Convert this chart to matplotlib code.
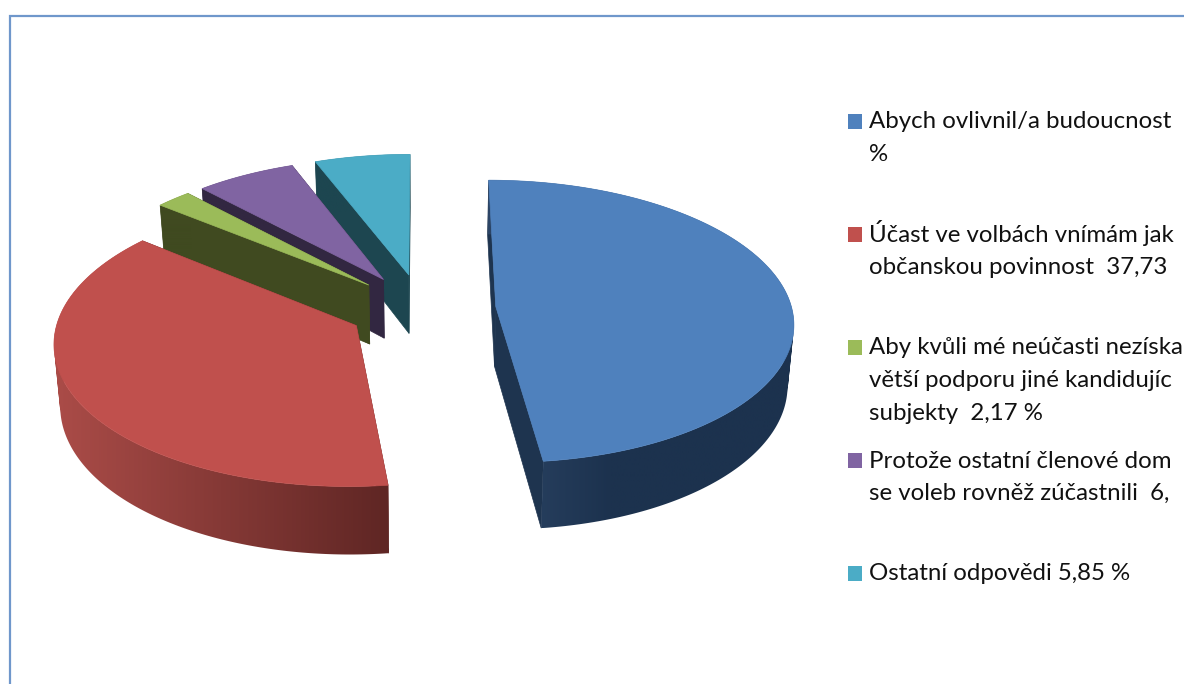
import numpy as np
import matplotlib
matplotlib.use('Agg')
import matplotlib.pyplot as plt
from matplotlib.colors import to_rgb
from matplotlib.patches import PathPatch
from matplotlib.path import Path

plt.rcParams['font.family'] = ['Lato', 'DejaVu Sans']

# values in percent, clockwise from the top
values = [48.12, 37.73, 2.17, 6.13, 5.85]
# legend runs off the right side of the picture, only the visible part is kept
legend_lines = [
    ['Abych ovlivnil/a budoucnost', '%'],
    ['Účast ve volbách vnímám jak', 'občanskou povinnost  37,73'],
    ['Aby kvůli mé neúčasti nezíska', 'větší podporu jiné kandidujíc', 'subjekty  2,17 %'],
    ['Protože ostatní členové dom', 'se voleb rovněž zúčastnili  6,'],
    ['Ostatní odpovědi 5,85 %'],
]
top_colors = ['#4f81bd', '#c0504d', '#9bbb59', '#8064a2', '#4bacc6']
wall_colors = ['#1e344f', '#5f2624', '#404a20', '#322741', '#1d4650']
rim_left = ['#2c4566', '#ab4c48', '#404a20', '#322741', '#1d4650']
rim_right = ['#1c324e', '#5f2624', '#404a20', '#322741', '#1d4650']

# fake 3d: disc seen in perspective, everything in pixels
cx, cy = 422, 308.5
rx, ry = 296, 140
persp = 0.1056
depth = 60
shrink = 0.983
explode = 0.25


def project(X, Y, bottom=False):
    den = 1 + persp * Y
    sx = cx + rx * X / den
    sy = cy - ry * Y / den
    if bottom:
        sx = cx + (sx - cx) * shrink
        sy = sy + depth / den
    return sx, sy


def rim_path(x1, y1, x2, y2):
    # quads all wound the same way, so the filled path is their union
    quads = []
    for j in range(len(x1) - 1):
        q = np.array([[x1[j], y1[j]], [x1[j + 1], y1[j + 1]], [x2[j + 1], y2[j + 1]], [x2[j], y2[j]]])
        area = np.sum(q[:, 0] * np.roll(q[:, 1], -1) - np.roll(q[:, 0], -1) * q[:, 1])
        if area < 0:
            q = q[::-1]
        quads.append(Path(np.vstack([q, q[0]]), closed=True))
    return Path.make_compound_path(*quads)


fig = plt.figure(figsize=(11.84, 6.84), dpi=100)
ax = fig.add_axes([0, 0, 1, 1])
ax.axis('off')

# chart frame, runs off the picture on the right and bottom
ax.plot([10, 10, 1200], [700, 15.5, 15.5], color='#6f97cb', lw=1.6, solid_joinstyle='miter')

edges = np.cumsum([0] + values) / sum(values) * 2 * np.pi

# small slices at the back first, so the big ones cover them
z = 2
for i in [4, 3, 2, 1, 0]:
    a0, a1 = edges[i], edges[i + 1]
    mid = (a0 + a1) / 2
    ox, oy = explode * np.sin(mid), explode * np.cos(mid)
    t = np.linspace(a0, a1, 200)
    X = ox + np.sin(t)
    Y = oy + np.cos(t)

    # radial walls
    for a in [a0, a1]:
        wx = np.array([ox, ox + np.sin(a)])
        wy = np.array([oy, oy + np.cos(a)])
        x1, y1 = project(wx, wy)
        x2, y2 = project(wx, wy, bottom=True)
        ax.fill(np.r_[x1, x2[::-1]], np.r_[y1, y2[::-1]], color=wall_colors[i], lw=0.5, zorder=z)

    # outer rim, horizontal gradient clipped to the rim shape
    x1, y1 = project(X, Y)
    x2, y2 = project(X, Y, bottom=True)
    left, right = np.array(to_rgb(rim_left[i])), np.array(to_rgb(rim_right[i]))
    pos = np.linspace(0, 1, 256)
    if i == 0:
        pos = np.minimum(pos * 2.5, 1)
    grad = (left + (right - left) * pos[:, None])[None, :, :]
    rim = PathPatch(rim_path(x1, y1, x2, y2), transform=ax.transData, fc='none', ec='none')
    ax.add_patch(rim)
    xs = np.r_[x1, x2]
    ys = np.r_[y1, y2]
    im = ax.imshow(grad, extent=(xs.min(), xs.max(), ys.max(), ys.min()), aspect='auto',
                   interpolation='bilinear', zorder=z + 0.1)
    im.set_clip_path(rim)

    # top face
    ax_, ay_ = project(ox, oy)
    ax.fill(np.r_[ax_, x1], np.r_[ay_, y1], color=top_colors[i], lw=0.5, zorder=z + 0.2)
    z += 1

ax.set_xlim(0, 1184)
ax.set_ylim(684, 0)

# legend
for i, lines in enumerate(legend_lines):
    base = 128.5 + 113 * i
    ax.fill([847.5, 862, 862, 847.5], [base - 15, base - 15, base, base], color=top_colors[i], lw=0)
    for n, line in enumerate(lines):
        ax.text(869, base + n * 32.6, line, fontsize=17.3, color='#111111', va='baseline', ha='left')

fig.savefig('out.png', dpi=100)
